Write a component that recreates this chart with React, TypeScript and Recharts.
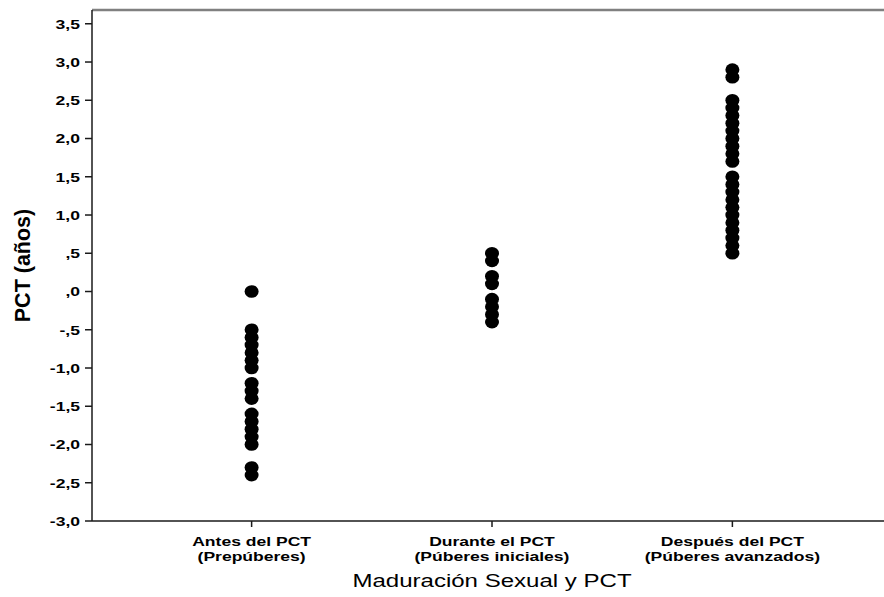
import { Label, ReferenceLine, Scatter, ScatterChart, XAxis, YAxis } from "recharts";

// Years relative to PCT for each sexual maturation group.
const ANTES = [0, -0.5, -0.6, -0.7, -0.8, -0.9, -1.0, -1.2, -1.3, -1.4, -1.6, -1.7, -1.8, -1.9, -2.0, -2.3, -2.4];
const DURANTE = [0.5, 0.4, 0.2, 0.1, -0.1, -0.2, -0.3, -0.4];
const DESPUES = [
  2.9, 2.8, 2.5, 2.4, 2.3, 2.2, 2.1, 2.0, 1.9, 1.8, 1.7, 1.5, 1.4, 1.3, 1.2, 1.1, 1.0, 0.9, 0.8, 0.7, 0.6, 0.5,
];

const CATEGORY_LINES = [
  ["Antes del PCT", "(Prepúberes)"],
  ["Durante el PCT", "(Púberes iniciales)"],
  ["Después del PCT", "(Púberes avanzados)"],
];
const X_TICKS = [1, 2, 3];
const X_DOMAIN = [0.336, 3.664];
const Y_TICKS = [-3, -2.5, -2, -1.5, -1, -0.5, 0, 0.5, 1, 1.5, 2, 2.5, 3, 3.5];
const Y_MAX = 3.68;

const points = [ANTES, DURANTE, DESPUES].flatMap((vals, i) => vals.map((v) => ({ x: X_TICKS[i], y: v })));

const FONT = "'Liberation Sans', Arial, sans-serif";
// SPSS output is rendered wide; stretch the text horizontally to suit.
const SX = 1.3;

// SPSS style: comma decimals, no leading zero ("-,5", ",0", "1,5").
function fmt(v: number) {
  let s = Math.abs(v).toFixed(1).replace(".", ",");
  if (Math.abs(v) < 1) s = s.slice(1);
  return (v < 0 ? "-" : "") + s;
}

function YTick({ x, y, payload }: any) {
  return (
    <g transform={`translate(${x},${y}) scale(${SX},1)`}>
      <text textAnchor="end" dy="0.36em" fontFamily={FONT} fontWeight="bold" fontSize={13.5} fill="#000">
        {fmt(payload.value)}
      </text>
    </g>
  );
}

function XTick({ x, y, payload }: any) {
  const lines = CATEGORY_LINES[payload.value - 1] ?? [];
  return (
    <g transform={`translate(${x},${y}) scale(${SX},1)`}>
      {lines.map((line, i) => (
        <text key={i} y={17 + i * 15} textAnchor="middle" fontFamily={FONT} fontWeight="bold" fontSize={13.5} fill="#000">
          {line}
        </text>
      ))}
    </g>
  );
}

function YTitle({ viewBox }: any) {
  const cy = viewBox.y + viewBox.height / 2;
  return (
    <text
      transform={`translate(22,${cy}) rotate(-90)`}
      textAnchor="middle"
      dy="0.36em"
      fontFamily={FONT}
      fontWeight="bold"
      fontSize={21.5}
      fill="#000"
    >
      PCT (años)
    </text>
  );
}

function XTitle({ viewBox }: any) {
  // centred under the middle category
  const cx = viewBox.x + (viewBox.width * (2 - X_DOMAIN[0])) / (X_DOMAIN[1] - X_DOMAIN[0]);
  return (
    <g transform={`translate(${cx},587) scale(${SX},1)`}>
      <text textAnchor="middle" fontFamily={FONT} fontSize={18.5} fill="#000">
        Maduración Sexual y PCT
      </text>
    </g>
  );
}

function Dot({ cx, cy }: any) {
  return <ellipse cx={cx} cy={cy} rx={7} ry={6.3} fill="#000" />;
}

export default function App() {
  return (
    <div style={{ position: "absolute", left: 0, top: 0, width: 884, height: 597, overflow: "hidden", background: "#fff" }}>
      <ScatterChart width={892} height={597} margin={{ top: 10, right: 0, bottom: 0, left: 0 }}>
        <XAxis
          type="number"
          dataKey="x"
          domain={X_DOMAIN}
          ticks={X_TICKS}
          tick={<XTick />}
          tickSize={6}
          height={76}
          stroke="#1a1a1a"
          strokeWidth={1.5}
          allowDataOverflow
        >
          <Label content={<XTitle />} />
        </XAxis>
        <YAxis
          type="number"
          dataKey="y"
          domain={[-3, Y_MAX]}
          ticks={Y_TICKS}
          tick={<YTick />}
          tickSize={7}
          tickMargin={5}
          width={92}
          stroke="#1a1a1a"
          strokeWidth={1.5}
          interval={0}
          allowDataOverflow
        >
          <Label content={<YTitle />} />
        </YAxis>
        <ReferenceLine y={Y_MAX} stroke="#808080" strokeWidth={2.5} ifOverflow="visible" />
        <Scatter data={points} shape={<Dot />} isAnimationActive={false} />
      </ScatterChart>
    </div>
  );
}
